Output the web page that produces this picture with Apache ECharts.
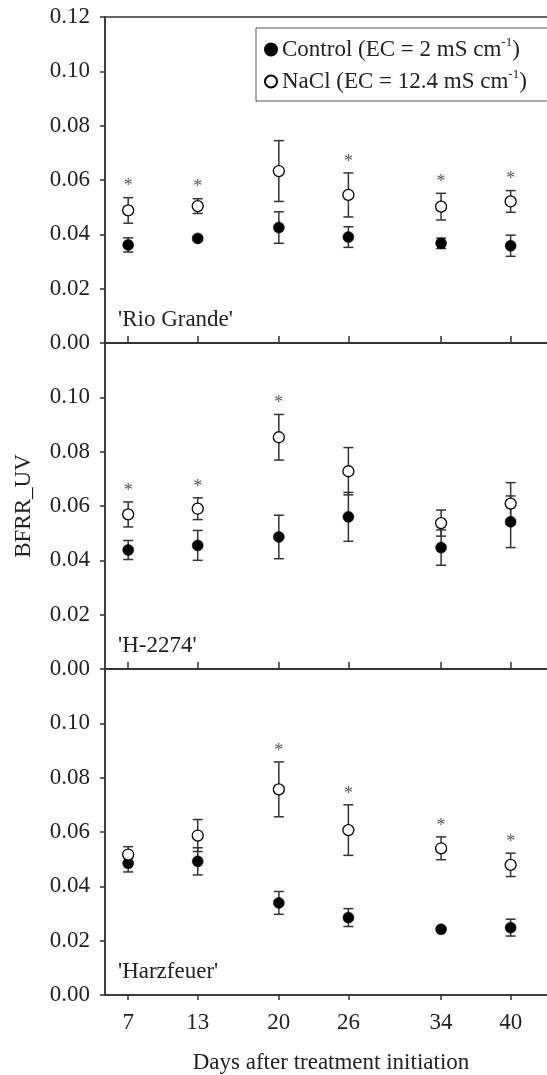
<!DOCTYPE html>
<html>
<head>
<meta charset="utf-8">
<script src="https://cdn.jsdelivr.net/npm/echarts@6/dist/echarts.min.js"></script>
<style>
html,body{margin:0;padding:0;background:#fff;}
#chart{width:547px;height:1075px;}
</style>
</head>
<body>
<div id="chart"></div>
<script>
// ---- data ----
const days = [7, 13, 20, 26, 34, 40];
const cultivars = ["'Rio Grande'", "'H-2274'", "'Harzfeuer'"];
const yTicks = [0, 0.02, 0.04, 0.06, 0.08, 0.10, 0.12];

// Rio Grande
const rgControl = [0.0361, 0.0385, 0.0425, 0.0390, 0.0367, 0.0358];
const rgControlErr = [0.0026, 0.0008, 0.0058, 0.0038, 0.0019, 0.0039];
const rgNaCl = [0.0488, 0.0504, 0.0633, 0.0545, 0.0502, 0.0521];
const rgNaClErr = [0.0047, 0.0027, 0.0112, 0.0081, 0.0049, 0.0040];
const rgStar = [1, 1, 0, 1, 1, 1];

// H-2274
const hControl = [0.0438, 0.0455, 0.0486, 0.0560, 0.0447, 0.0542];
const hControlErr = [0.0035, 0.0055, 0.0080, 0.0090, 0.0065, 0.0095];
const hNaCl = [0.0569, 0.0590, 0.0853, 0.0728, 0.0537, 0.0609];
const hNaClErr = [0.0046, 0.0040, 0.0084, 0.0087, 0.0048, 0.0077];
const hStar = [1, 1, 1, 0, 0, 0];

// Harzfeuer
const hzControl = [0.0485, 0.0492, 0.0339, 0.0285, 0.0242, 0.0248];
const hzControlErr = [0.0032, 0.0050, 0.0042, 0.0033, 0.0008, 0.0031];
const hzNaCl = [0.0517, 0.0587, 0.0757, 0.0607, 0.0540, 0.0479];
const hzNaClErr = [0.0029, 0.0059, 0.0101, 0.0093, 0.0042, 0.0043];
const hzStar = [0, 0, 1, 1, 1, 1];

const legendNames = ['Control', 'NaCl'];
const legendLabels = {
  'Control': ['Control (EC = 2 mS cm', '-1', ')'],
  'NaCl': ['NaCl (EC = 12.4 mS cm', '-1', ')']
};
const xTitle = 'Days after treatment initiation';
const yTitle = 'BFRR_UV';

// ---- chart ----
const FONT = 'Liberation Serif';
const FS = 23;
const AX = '#333';
const TXT = '#222';

const panels = [
  {c: rgControl, ce: rgControlErr, n: rgNaCl, ne: rgNaClErr, s: rgStar},
  {c: hControl, ce: hControlErr, n: hNaCl, ne: hNaClErr, s: hStar},
  {c: hzControl, ce: hzControlErr, n: hzNaCl, ne: hzNaClErr, s: hzStar}
];

const gridTops = [17, 343, 669];
const gridH = 326;

const grids = gridTops.map(t => ({
  left: 105, width: 452, top: t, height: gridH,
  outerBoundsMode: 'none', containLabel: false,
  show: true, borderColor: AX, borderWidth: 1.5, backgroundColor: 'transparent'
}));

const xAxes = panels.map((p, i) => ({
  type: 'value', gridIndex: i, min: 5, max: 44,
  axisLine: {show: true, onZero: false, lineStyle: {color: AX, width: 1.5}},
  axisTick: {show: true, inside: i < 2, length: i < 2 ? 7 : 5, customValues: days, lineStyle: {color: AX, width: 1.5}},
  axisLabel: {show: i === 2, customValues: days, margin: 16, fontFamily: FONT, fontSize: FS, color: TXT},
  splitLine: {show: false},
  name: i === 2 ? xTitle : '', nameLocation: 'middle', nameGap: 56,
  nameTextStyle: {fontFamily: FONT, fontSize: FS, color: TXT}
}));

const yAxes = panels.map((p, i) => ({
  type: 'value', gridIndex: i, min: 0, max: 0.12, interval: 0.02,
  axisLine: {show: true, lineStyle: {color: AX, width: 1.5}},
  axisTick: {show: true, inside: false, length: 5, lineStyle: {color: AX, width: 1.5}},
  axisLabel: {
    showMaxLabel: i === 0, margin: 15, fontFamily: FONT, fontSize: FS, color: TXT,
    formatter: v => v.toFixed(2)
  },
  splitLine: {show: false},
  name: i === 1 ? yTitle : '', nameLocation: 'middle', nameGap: 70,
  nameTextStyle: {fontFamily: FONT, fontSize: FS, color: TXT}
}));

function errRender(params, api) {
  const x = api.value(0);
  const lo = api.coord([x, api.value(1)]);
  const hi = api.coord([x, api.value(2)]);
  const w = 5;
  const st = {stroke: AX, lineWidth: 1.5};
  return {
    type: 'group',
    children: [
      {type: 'line', shape: {x1: lo[0], y1: lo[1], x2: hi[0], y2: hi[1]}, style: st},
      {type: 'line', shape: {x1: lo[0] - w, y1: lo[1], x2: lo[0] + w, y2: lo[1]}, style: st},
      {type: 'line', shape: {x1: hi[0] - w, y1: hi[1], x2: hi[0] + w, y2: hi[1]}, style: st}
    ]
  };
}

function starRender(params, api) {
  const pt = api.coord([api.value(0), api.value(1)]);
  return {
    type: 'text',
    style: {x: pt[0], y: pt[1] - 2, text: '*', fill: '#555', font: '18px ' + FONT, align: 'center', verticalAlign: 'bottom'}
  };
}

const series = [];
panels.forEach((p, i) => {
  series.push({
    type: 'custom', xAxisIndex: i, yAxisIndex: i, z: 2, silent: true,
    renderItem: errRender, encode: {x: 0, y: [1, 2]},
    data: days.map((d, k) => [d, p.c[k] - p.ce[k], p.c[k] + p.ce[k]])
  });
  series.push({
    type: 'custom', xAxisIndex: i, yAxisIndex: i, z: 2, silent: true,
    renderItem: errRender, encode: {x: 0, y: [1, 2]},
    data: days.map((d, k) => [d, p.n[k] - p.ne[k], p.n[k] + p.ne[k]])
  });
  series.push({
    name: 'Control', type: 'scatter', xAxisIndex: i, yAxisIndex: i, z: 3,
    symbol: 'circle', symbolSize: 11,
    itemStyle: {color: '#000', borderColor: '#000', borderWidth: 0.5, opacity: 1},
    data: days.map((d, k) => [d, p.c[k]])
  });
  series.push({
    name: 'NaCl', type: 'scatter', xAxisIndex: i, yAxisIndex: i, z: 4,
    symbol: 'circle', symbolSize: 11,
    itemStyle: {color: '#fff', borderColor: '#000', borderWidth: 1.3, opacity: 1},
    data: days.map((d, k) => [d, p.n[k]])
  });
  series.push({
    type: 'custom', xAxisIndex: i, yAxisIndex: i, z: 5, silent: true,
    renderItem: starRender, encode: {x: 0, y: 1},
    data: days.map((d, k) => [d, p.n[k] + p.ne[k], p.s[k]]).filter(r => r[2] === 1)
  });
});

const titles = cultivars.map((c, i) => ({
  text: c, left: 113, top: gridTops[i] + gridH - 40,
  textStyle: {fontFamily: FONT, fontSize: FS, fontWeight: 'normal', color: TXT}
}));

const option = {
  animation: false,
  backgroundColor: '#fff',
  title: titles,
  grid: grids,
  xAxis: xAxes,
  yAxis: yAxes,
  legend: {
    data: legendNames,
    orient: 'vertical', left: 256, top: 28,
    padding: [8, 60, 8, 8], itemGap: 7,
    itemWidth: 12, itemHeight: 12, icon: 'circle',
    borderColor: '#555', borderWidth: 1, selectedMode: false,
    formatter: name => {
      const L = legendLabels[name];
      return '{a|' + L[0] + '}{s|' + L[1] + '}{a|' + L[2] + '}';
    },
    textStyle: {
      fontFamily: FONT, fontSize: FS, color: TXT,
      rich: {
        a: {fontFamily: FONT, fontSize: FS, color: TXT, lineHeight: 27},
        s: {fontFamily: FONT, fontSize: 13, color: TXT, verticalAlign: 'top', lineHeight: 13}
      }
    }
  },
  series: series
};

const chart = echarts.init(document.getElementById('chart'), null, {renderer: 'canvas'});
chart.setOption(option);
</script>
</body>
</html>
